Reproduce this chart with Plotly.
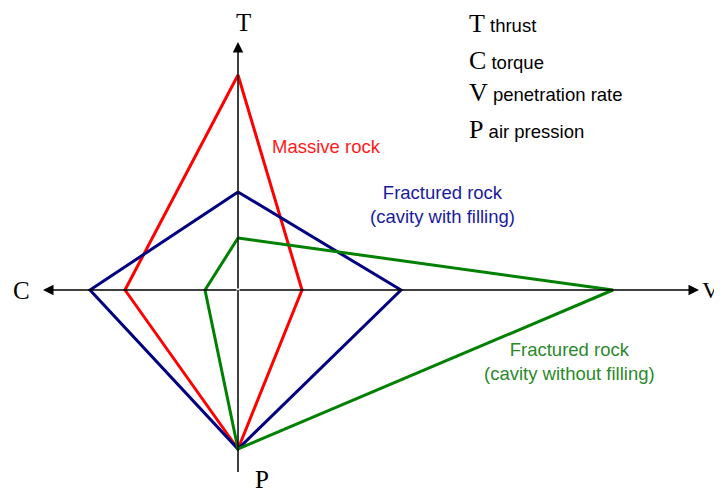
import plotly.graph_objects as go

# Axis order of each polygon: T (up), V (right), P (down), C (left)
axis_names = ["T", "V", "P", "C"]
massive_rock = [215, 64, 159, 113]
fractured_filled = [98, 163, 159, 148]
fractured_empty = [52, 375, 159, 33]

legend_letters = ["T", "C", "V", "P"]
legend_words = ["thrust", "torque", "penetration rate", "air pression"]

series = [
    ("Massive rock", massive_rock, "#ff0000"),
    ("Fractured rock (cavity with filling)", fractured_filled, "#000080"),
    ("Fractured rock (cavity without filling)", fractured_empty, "#008000"),
]


def to_xy(vals):
    t, v, p, c = vals
    xs = [0, v, 0, -c, 0]
    ys = [t, 0, -p, 0, t]
    return xs, ys


fig = go.Figure()
for name, vals, col in series:
    xs, ys = to_xy(vals)
    fig.add_trace(go.Scatter(x=xs, y=ys, mode="lines", name=name,
                             line=dict(color=col, width=3), hoverinfo="skip"))

SERIF = "Liberation Serif"
SANS = "Liberation Sans"

# axes lines
fig.add_shape(type="line", x0=0, y0=0, x1=0, y1=-182, line=dict(color="black", width=1.5))
for (tx, ty) in [(-195, 0), (461, 0), (0, 248)]:
    fig.add_annotation(x=tx, y=ty, ax=0, ay=0, xref="x", yref="y", axref="x", ayref="y",
                       text="", showarrow=True, arrowhead=2, arrowsize=1.4,
                       arrowwidth=1.5, arrowcolor="black", standoff=0, startstandoff=0)

# axis letters
fig.add_annotation(x=5, y=268, text="T", showarrow=False, font=dict(family=SERIF, size=25, color="black"))
fig.add_annotation(x=-217, y=0, text="C", showarrow=False, font=dict(family=SERIF, size=25, color="black"))
fig.add_annotation(x=463, y=0, text="V", showarrow=False, xanchor="left", borderpad=0,
                   font=dict(family=SERIF, size=24, color="black"))
fig.add_annotation(x=24, y=-189, text="P", showarrow=False, borderpad=0,
                   font=dict(family=SERIF, size=25, color="black"))

# legend text
ys_leg = [267, 230, 198, 161]
for letter, word, yy in zip(legend_letters, legend_words, ys_leg):
    fig.add_annotation(x=229, y=yy, xanchor="left", showarrow=False,
                       text=f"<span style='font-family:{SERIF};font-size:26px'>{letter}</span> {word}",
                       font=dict(family=SANS, size=18.5, color="black"))

# series labels
fig.add_annotation(x=32, y=144, xanchor="left", showarrow=False, text="Massive rock",
                   font=dict(family=SANS, size=18.5, color="#ff1a1a"))
fig.add_annotation(x=204, y=86, showarrow=False, align="center",
                   text="Fractured rock<br>(cavity with filling)",
                   font=dict(family=SANS, size=18.5, color="#1a1aa0"))
fig.add_annotation(x=331, y=-71, showarrow=False, align="center",
                   text="Fractured rock<br>(cavity without filling)",
                   font=dict(family=SANS, size=18.5, color="#2a8a2a"))

# the page body adds an 8px margin, so the ranges are shifted by 8 units
fig.update_layout(
    width=722, height=496, margin=dict(l=0, r=0, t=0, b=0),
    paper_bgcolor="white", plot_bgcolor="white", showlegend=False,
    xaxis=dict(range=[-230, 492], visible=False, fixedrange=True),
    yaxis=dict(range=[-214, 282], visible=False, fixedrange=True),
)
fig.write_html("out.html")
